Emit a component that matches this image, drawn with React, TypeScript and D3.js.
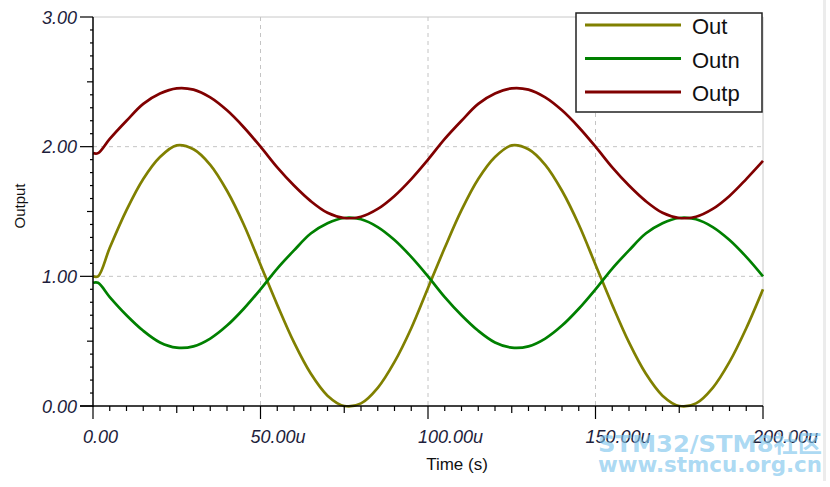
import React from "react";
import * as d3 from "d3";

const timeUs = [0, 1.5, 5, 10, 15, 20, 25, 30, 35, 40, 45, 50, 55, 60, 65, 70, 75, 80, 85, 90, 95, 100,
  105, 110, 115, 120, 125, 130, 135, 140, 145, 150, 155, 160, 165, 170, 175, 180, 185, 190, 195, 200];
const outValues = [1.0, 1.0, 1.22, 1.51, 1.75, 1.92, 2.01, 1.98, 1.86, 1.66, 1.4, 1.09, 0.78, 0.49, 0.25, 0.08, 0.0, 0.02, 0.14, 0.34, 0.6, 0.91,
  1.22, 1.51, 1.75, 1.92, 2.01, 1.98, 1.86, 1.66, 1.4, 1.09, 0.78, 0.49, 0.25, 0.08, 0.0, 0.02, 0.14, 0.34, 0.6, 0.9];
const outnValues = [0.95, 0.95, 0.84, 0.7, 0.58, 0.49, 0.45, 0.46, 0.52, 0.62, 0.75, 0.9, 1.06, 1.2, 1.33, 1.41, 1.45, 1.44, 1.38, 1.28, 1.15, 1.0,
  0.84, 0.7, 0.58, 0.49, 0.45, 0.46, 0.52, 0.62, 0.75, 0.9, 1.06, 1.2, 1.33, 1.41, 1.45, 1.44, 1.38, 1.28, 1.15, 1.0];
const outpValues = [1.95, 1.95, 2.06, 2.2, 2.33, 2.41, 2.45, 2.44, 2.38, 2.28, 2.15, 2.0, 1.84, 1.7, 1.58, 1.49, 1.45, 1.46, 1.52, 1.62, 1.75, 1.9,
  2.06, 2.2, 2.33, 2.41, 2.45, 2.44, 2.38, 2.28, 2.15, 2.0, 1.84, 1.7, 1.58, 1.49, 1.45, 1.46, 1.52, 1.62, 1.75, 1.89];

const seriesNames = ["Out", "Outn", "Outp"];
const seriesColors = ["#808000", "#008000", "#800000"];
const xTickValues = [0, 50, 100, 150, 200];
const xTickLabels = ["0.00", "50.00u", "100.00u", "150.00u", "200.00u"];
const yTickValues = [0, 1, 2, 3];
const yTickLabels = ["0.00", "1.00", "2.00", "3.00"];

export default function App() {
  const W = 830, H = 487;
  const left = 93, right = 763, top = 17, bottom = 406;
  const x = d3.scaleLinear().domain([0, 200]).range([left, right]);
  const y = d3.scaleLinear().domain([0, 3]).range([bottom, top]);
  const series = [outValues, outnValues, outpValues];
  const line = d3.line<number>()
    .x((_, i) => x(timeUs[i]))
    .y((d) => y(d))
    .curve(d3.curveCatmullRom.alpha(0.5));

  const xMinor = d3.range(0, 201, 5);
  const yMinor = d3.range(0, 31, 1).map((v) => v / 10);
  const labelColor = "#1e1e3c";
  const font = "'Liberation Sans', Arial, sans-serif";

  return (
    <svg width={W} height={H} style={{ position: "absolute", left: 0, top: 0, background: "#fff" }}>
      <rect x={0} y={0} width={W} height={H} fill="#fff" />
      <rect x={823} y={0} width={3} height={481} fill="#ececec" />
      {/* frame */}
      <line x1={left} x2={right} y1={top} y2={top} stroke="#c8c8c8" strokeWidth={1} />
      <line x1={right} x2={right} y1={top} y2={bottom} stroke="#c8c8c8" strokeWidth={1} />
      {/* grid */}
      {[50, 100, 150].map((v) => (
        <line key={"gx" + v} x1={x(v)} x2={x(v)} y1={top} y2={bottom} stroke="#c4c4c4" strokeDasharray="4,4" />
      ))}
      {[1, 2].map((v) => (
        <line key={"gy" + v} x1={left} x2={right} y1={y(v)} y2={y(v)} stroke="#c4c4c4" strokeDasharray="4,4" />
      ))}
      {/* series */}
      {series.map((s, i) => (
        <path key={"s" + i} d={line(s) || ""} fill="none" stroke={seriesColors[i]} strokeWidth={2.7} />
      ))}
      {/* axes */}
      <line x1={left} x2={left} y1={top} y2={bottom + 1} stroke="#000" strokeWidth={1.5} />
      <line x1={left - 13} x2={right} y1={bottom} y2={bottom} stroke="#000" strokeWidth={1.5} />
      {xMinor.map((v) => {
        const len = v % 50 === 0 ? 13 : v % 25 === 0 ? 7 : 5;
        return <line key={"xt" + v} x1={x(v)} x2={x(v)} y1={bottom} y2={bottom + len} stroke="#000" strokeWidth={1.2} />;
      })}
      {yMinor.map((v) => {
        const k = Math.round(v * 10);
        const len = k % 10 === 0 ? 13 : k % 5 === 0 ? 6 : 3;
        return <line key={"yt" + k} x1={left - len} x2={left} y1={y(v)} y2={y(v)} stroke="#000" strokeWidth={1.2} />;
      })}
      {xTickValues.map((v, i) => (
        <text key={"xl" + v} x={x(v) - 10} y={443} textAnchor="start" fontFamily={font} fontStyle="italic" fontSize={18} fill={labelColor}>
          {xTickLabels[i]}
        </text>
      ))}
      {yTickValues.map((v, i) => (
        <text key={"yl" + v} x={77} y={y(v) + 6.5} textAnchor="end" fontFamily={font} fontStyle="italic" fontSize={18} fill={labelColor}>
          {yTickLabels[i]}
        </text>
      ))}
      {/* axis titles */}
      <text x={457} y={470} textAnchor="middle" fontFamily={font} fontSize={17} fill="#111">Time (s)</text>
      <text transform="translate(25,206) rotate(-90)" textAnchor="middle" fontFamily={font} fontSize={15} fill="#111">Output</text>
      {/* legend */}
      <rect x={576} y={13} width={186} height={99} fill="#fff" stroke="#222" strokeWidth={1.5} />
      {seriesNames.map((n, i) => (
        <g key={"lg" + n}>
          <line x1={585} x2={681} y1={25 + i * 33.5} y2={25 + i * 33.5} stroke={seriesColors[i]} strokeWidth={3} />
          <text x={692} y={34 + i * 33.5} fontFamily={font} fontSize={22} fill="#111">{n}</text>
        </g>
      ))}
      {/* watermark */}
      <g fill="#7cc4ec" fillOpacity={0.65} fontFamily="'DejaVu Sans', 'Noto Sans CJK SC', sans-serif" fontWeight="bold">
        <text x={598} y={452} fontSize={23} textLength={224} lengthAdjust="spacingAndGlyphs">STM32/STM8社区</text>
        <text x={598} y={472} fontSize={21} textLength={224} lengthAdjust="spacingAndGlyphs">www.stmcu.org.cn</text>
      </g>
    </svg>
  );
}
